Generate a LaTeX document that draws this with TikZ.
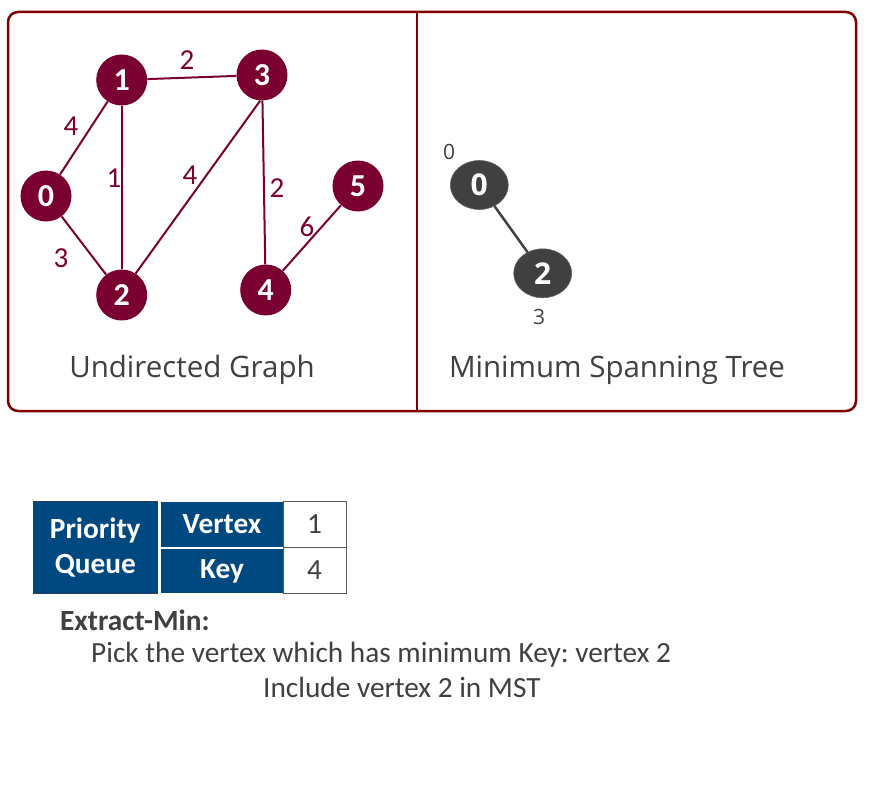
\documentclass[tikz,border=0pt]{standalone}
\usepackage{fontspec}
\setmainfont{Carlito}
\newfontfamily\osans{Open Sans}
\usetikzlibrary{shapes.geometric}
\definecolor{framecol}{RGB}{128,0,0}
\definecolor{gnode}{RGB}{122,0,50}
\definecolor{txt}{RGB}{64,64,64}
\definecolor{mstcol}{RGB}{64,64,64}
\definecolor{pqcol}{RGB}{0,72,128}
\frenchspacing
\begin{document}
\begin{tikzpicture}[x=1pt,y=-1pt,
  gv/.style={circle, fill=gnode, minimum size=51pt, inner sep=0pt, text=white, font=\fontsize{32}{34}\selectfont\bfseries},
  glab/.style={text=gnode, font=\fontsize{29}{31}\selectfont, inner sep=0pt},
  gedge/.style={draw=gnode, line width=2pt},
  mv/.style={ellipse, fill=mstcol, draw=gray!80!black, line width=0.6pt, minimum width=58pt, minimum height=49pt, inner sep=0pt, text=white, font=\osans\bfseries\fontsize{30}{32}\selectfont},
  mlab/.style={text=txt, font=\osans\fontsize{21}{24}\selectfont, inner sep=0pt},
  caption/.style={text=txt, font=\osans\fontsize{29.5}{34}\selectfont, inner sep=0pt, anchor=base},
  bluecell/.style={fill=pqcol, text=white, inner sep=0pt, outer sep=0pt, anchor=north west, align=center, font=\fontsize{29.3}{35.5}\selectfont\bfseries},
  valcell/.style={draw=gray!70!black, line width=1pt, fill=white, text=txt, inner sep=0pt, outer sep=0pt, anchor=north west, font=\fontsize{29.3}{31}\selectfont},
  btxt/.style={text=txt, inner sep=0pt, anchor=base west, font=\fontsize{29.3}{32}\selectfont}
]
\useasboundingbox (0,0) rectangle (869,800);
% frame
\draw[framecol, line width=2.5pt, rounded corners=10pt] (8,12) rectangle (856,411);
\draw[framecol, line width=2.5pt] (417,12) -- (417,411);
% graph nodes
\node[gv] (n1) at (121.7,80) {1};
\node[gv] (n3) at (262,75) {3};
\node[gv] (n0) at (46,196) {0};
\node[gv] (n5) at (358,186) {5};
\node[gv] (n2) at (121.7,295) {2};
\node[gv] (n4) at (265.7,290) {4};
\draw[gedge] (n1) -- (n3);
\draw[gedge] (n0) -- (n1);
\draw[gedge] (n1) -- (n2);
\draw[gedge] (n0) -- (n2);
\draw[gedge] (n2.57) -- (n3.266);
\draw[gedge] (n3) -- (n4);
\draw[gedge] (n4) -- (n5);
\node[glab] (w13) at (187,60) {2};
\node[glab] (w01) at (71,126) {4};
\node[glab] (w12) at (114,178) {1};
\node[glab] (w23) at (190,175) {4};
\node[glab] (w34) at (277,188) {2};
\node[glab] (w45) at (307,227) {6};
\node[glab] (w02) at (61,258) {3};
\node[caption] (c1) at (192,377) {Undirected Graph};
% MST
\node[mv] (m0) at (479.3,185) {0};
\node[mv] (m2) at (542.7,273.3) {2};
\draw[mstcol, line width=2.5pt] (m0) -- (m2);
\node[mlab] (k0) at (449,152) {0};
\node[mlab] (k2) at (539,317) {3};
\node[caption] (c2) at (617,377) {Minimum Spanning Tree};
% table
\node[bluecell, draw={rgb,255:red,50;green,60;blue,80}, line width=1pt, minimum width=124pt, minimum height=92pt] (pq) at (33.3,501.7) {Priority\\Queue};
\node[bluecell, minimum width=122.6pt, minimum height=45pt] (vx) at (160.7,501.7) {Vertex};
\node[bluecell, minimum width=122.6pt, minimum height=44pt] (ky) at (160.7,549.3) {Key};
\node[valcell, minimum width=62.7pt, minimum height=45.5pt] (v1) at (283.3,501.7) {1};
\node[valcell, minimum width=62.7pt, minimum height=46pt] (v2) at (283.3,547.2) {4};
% bottom text
\node[btxt, font=\fontsize{29.3}{32}\selectfont\bfseries] (t1) at (60,630) {Extract-Min:};
\node[btxt] (t2) at (91,662) {Pick the vertex which has minimum Key: vertex 2};
\node[btxt] (t3) at (263,697) {Include vertex 2 in MST};
\end{tikzpicture}
\end{document}
